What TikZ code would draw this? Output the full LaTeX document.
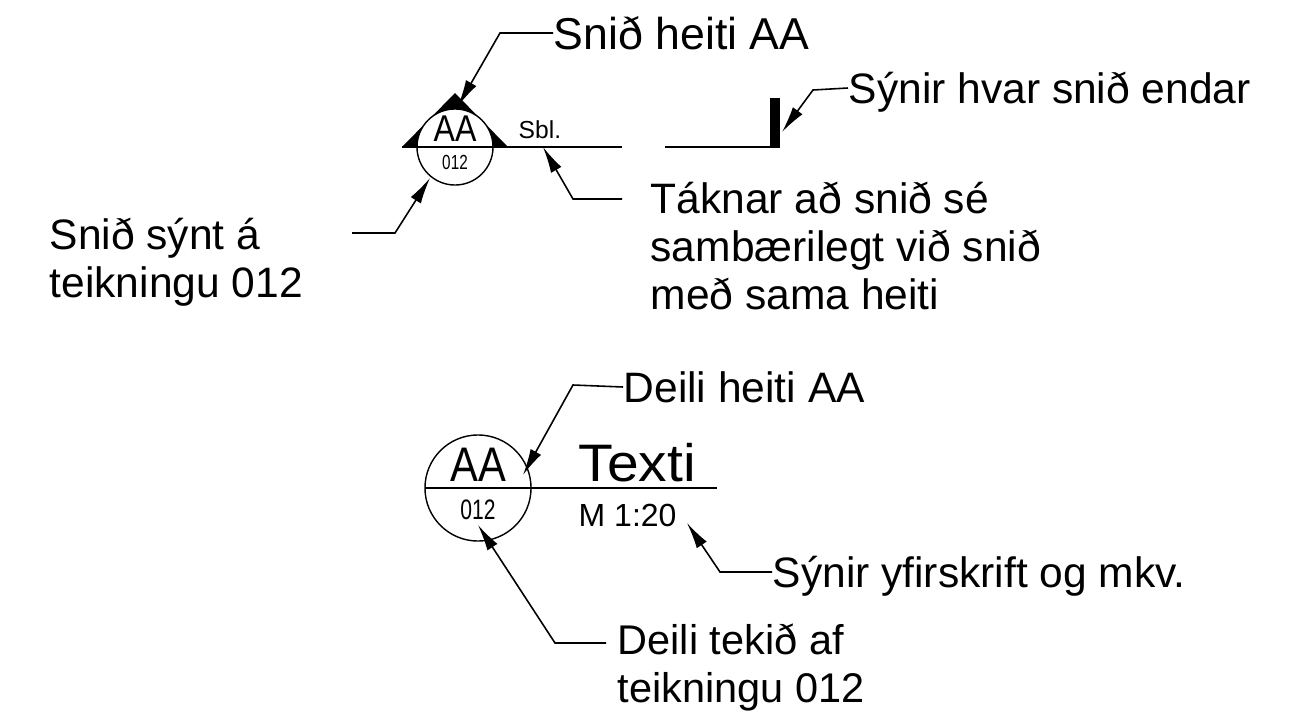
\documentclass[tikz,border=0pt]{standalone}
\usepackage{fontspec}
\setmainfont{Liberation Sans}
\newfontfamily\narrowfont[FakeStretch=0.75]{Liberation Sans}
\newfontfamily\tagfont[FakeStretch=0.86]{Liberation Sans}
\newfontfamily\widefont[FakeStretch=1.08]{Liberation Sans}
\usetikzlibrary{arrows.meta}
\newcommand{\fs}[1]{\fontsize{#1}{#1}\selectfont}
\begin{document}
\begin{tikzpicture}[x=0.01cm, y=-0.01cm,
    label/.style = {anchor=west, inner sep=0pt, align=left, font=\fs{12.1}, text depth=0pt},
    tag/.style = {inner sep=0pt},
    ring/.style = {circle, draw, fill=white, inner sep=0pt, line width=0.4pt},
    leader/.style = {line width=0.45pt, -{Latex[length=7.5pt,width=3.4pt]}},
    rule/.style = {line width=0.6pt}]
    \useasboundingbox (0,0) rectangle (1300,715);
    % top symbol
    \coordinate (a1) at (402,147);
    \coordinate (a2) at (622,147);
    \coordinate (a3) at (665,147);
    \coordinate (a4) at (771,147);
    \fill (a1) -- (455,93) -- (508,147) -- cycle;
    \node[ring, minimum size=0.76cm] (r1) at (455,147) {};
    \draw[rule] (a1) -- (a2);
    \draw[rule] (a3) -- (a4);
    \fill (770,98) rectangle (780,148);
    \node[tag, font=\tagfont\fs{10.6}] (aa1) at (455,129) {AA};
    \node[tag, font=\narrowfont\fs{5.8}] (no1) at (455,162) {012};
    \node[tag, font=\fs{7}, anchor=west] (sbl) at (518,130) {Sbl.};
    \node[label, font=\fs{12.7}] (t1) at (553,33) {Snið heiti AA};
    \node[label] (t2) at (848,88) {Sýnir hvar snið endar};
    \node[label] (t3) at (650,245.5) {Táknar að snið sé\\[1.5pt]sambærilegt við snið\\[1.5pt]með sama heiti};
    \node[label] (t4) at (49,258) {Snið sýnt á\\[1.5pt]teikningu 012};
    \coordinate (e1) at (352,233);
    \coordinate (e3) at (622,199);
    \coordinate (p1) at (458,106);
    \coordinate (p2) at (782,132);
    \coordinate (p3) at (543,147);
    \coordinate (p4) at (430,178);
    \draw[leader] (t1.west) -- (500,33) -- (p1);
    \draw[leader] (t2.west) -- (813,90) -- (p2);
    \draw[leader] (e3) -- (573,199) -- (p3);
    \draw[leader] (e1) -- (395,233) -- (p4);
    % bottom symbol
    \coordinate (b1) at (425,488);
    \coordinate (b2) at (717,488);
    \node[ring, minimum size=1.06cm] (r2) at (478,488) {};
    \draw[rule] (b1) -- (b2);
    \node[tag, font=\tagfont\fs{13.8}] (aa2) at (478,464.5) {AA};
    \node[tag, font=\narrowfont\fs{8}] (no2) at (478,510) {012};
    \node[tag, font=\widefont\fs{15}, anchor=west] (tx) at (578,463) {Texti};
    \node[tag, font=\fs{9.1}, anchor=west] (sc) at (578,515) {M 1:20};
    \node[label] (t5) at (623,387) {Deili heiti AA};
    \node[label] (t6) at (772,572) {Sýnir yfirskrift og mkv.};
    \node[label, font=\fs{11.8}] (t7) at (617,663) {Deili tekið af\\[1.8pt]teikningu 012};
    \coordinate (e7) at (606,643);
    \coordinate (p5) at (523,475);
    \coordinate (p6) at (687,523);
    \coordinate (p7) at (478,525);
    \draw[leader] (t5.west) -- (573,385) -- (p5);
    \draw[leader] (t6.west) -- (720,572) -- (p6);
    \draw[leader] (e7) -- (555,643) -- (p7);
\end{tikzpicture}
\end{document}
